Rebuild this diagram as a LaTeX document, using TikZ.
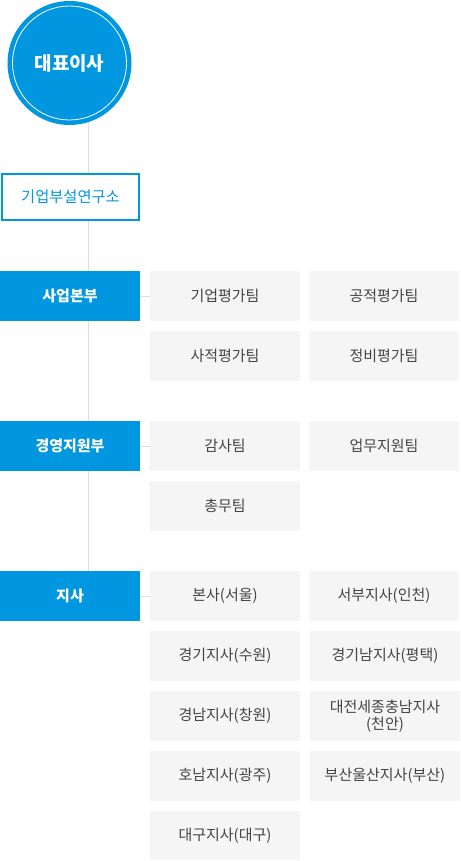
\documentclass[tikz,border=0pt]{standalone}
\usepackage{fontspec}
\newfontfamily\kr{Noto Sans CJK KR}
\definecolor{mainblue}{RGB}{0,150,224}
\definecolor{boxgray}{RGB}{245,245,245}
\definecolor{txtgray}{RGB}{68,68,68}
\definecolor{linegray}{RGB}{221,221,221}
\tikzset{
  head/.style={fill=mainblue, text=white, minimum width=140pt, minimum height=50pt, inner sep=0pt, outer sep=0pt, anchor=north west, font=\kr\bfseries\fontsize{15}{18}\selectfont},
  team/.style={fill=boxgray, text=txtgray, minimum width=150pt, minimum height=50pt, inner sep=0pt, outer sep=0pt, anchor=north west, align=center, font=\kr\fontsize{15}{16.5}\selectfont},
  conn/.style={draw=linegray, line width=1pt},
}
\begin{document}
\begin{tikzpicture}[x=1pt,y=-1pt]
\useasboundingbox (0,0) rectangle (460,861);
% trunk line
\coordinate (t1) at (88,120);
\coordinate (t2) at (88,571);
\draw[conn] (t1) -- (t2);
% CEO circle
\node[circle, fill=mainblue, minimum size=124pt, inner sep=0pt] (ceo) at (69.5,63) {};
\draw[white, line width=0.8pt] (ceo.center) circle (57pt);
\node[text=white, font=\kr\bfseries\fontsize{19}{22}\selectfont] (ceotxt) at (ceo.center) {대표이사};
% research lab
\node[draw=mainblue, line width=2pt, fill=white, text=mainblue, minimum width=137pt, minimum height=46pt, inner sep=0pt, anchor=north west, font=\kr\fontsize{15.3}{18}\selectfont] (lab) at (1,173) {기업부설연구소};
% division 1
\node[head] (d1) at (0,271) {사업본부};
\node[team] (a1) at (150,271) {기업평가팀};
\node[team] (a2) at (309,271) {공적평가팀};
\node[team] (a3) at (150,331) {사적평가팀};
\node[team] (a4) at (309,331) {정비평가팀};
\draw[conn] (d1.east) -- (a1.west);
% division 2
\node[head] (d2) at (0,421) {경영지원부};
\node[team] (b1) at (150,421) {감사팀};
\node[team] (b2) at (309,421) {업무지원팀};
\node[team] (b3) at (150,481) {총무팀};
\draw[conn] (d2.east) -- (b1.west);
% division 3
\node[head] (d3) at (0,571) {지사};
\node[team] (c1) at (150,571) {본사(서울)};
\node[team] (c2) at (309,571) {서부지사(인천)};
\node[team] (c3) at (150,631) {경기지사(수원)};
\node[team] (c4) at (310,631) {경기남지사(평택)};
\node[team] (c5) at (150,691) {경남지사(창원)};
\node[team] (c6) at (310,691) {대전세종충남지사\\(천안)};
\node[team] (c7) at (150,751) {호남지사(광주)};
\node[team] (c8) at (310,751) {부산울산지사(부산)};
\node[team, minimum height=49pt] (c9) at (150,811) {대구지사(대구)};
\draw[conn] (d3.east) -- (c1.west);
\end{tikzpicture}
\end{document}
